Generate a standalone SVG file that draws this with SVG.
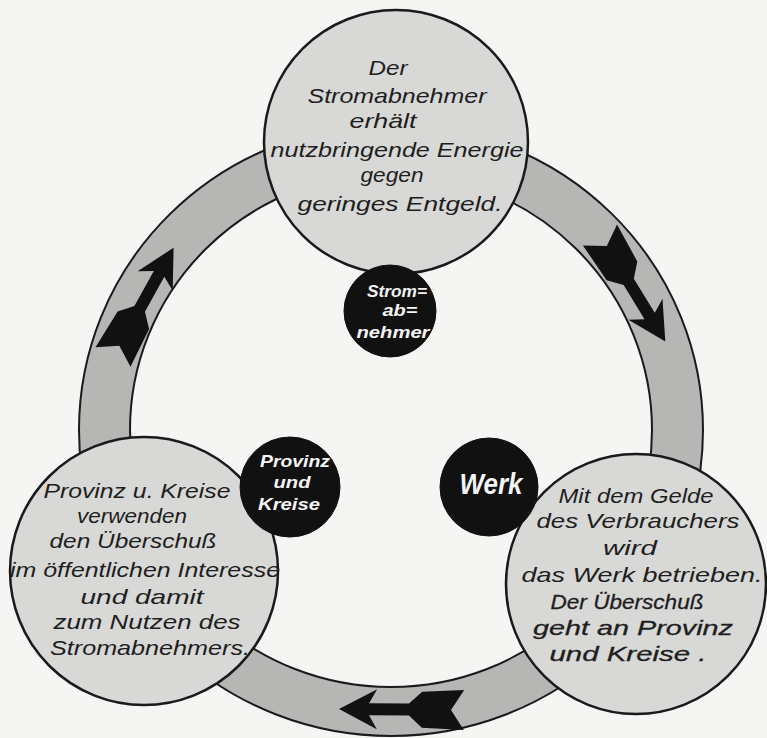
<svg xmlns="http://www.w3.org/2000/svg" width="767" height="738" viewBox="0 0 767 738">
  <style>
    .big { fill: #d8d8d6; stroke: #1a1a1a; stroke-width: 2.5; }
    .dark { fill: #111; stroke: #111; stroke-width: 1; }
    .t { font-family: "Liberation Sans", Arial, sans-serif; font-style: italic; font-size: 21px; fill: #1e1e1e; text-anchor: middle; }
    .tb { stroke: #1e1e1e; stroke-width: 0.3; }
    .w { font-family: "Liberation Sans", Arial, sans-serif; font-style: italic; font-weight: bold; font-size: 17px; fill: #f4f4f4; text-anchor: middle; }
    .arrow { fill: #111; }
  </style>
  <defs>
    <polygon id="arr" points="125,0 87,-20 95,-6 55,-6 42,-18 0,-20 13,0 0,20 42,18 55,6 95,6 87,20"/>
  </defs>
  <rect x="0" y="0" width="767" height="738" fill="#f5f5f3"/>

  <g id="connectors">
    <path d="M 79,430 A 312 306 0 1 0 703 430 A 312 306 0 1 0 79 430 Z M 130,430 A 261 257 0 1 0 652 430 A 261 257 0 1 0 130 430 Z" fill="#b6b6b4" fill-rule="evenodd" stroke="#1a1a1a" stroke-width="2"/>
    <use href="#arr" class="arrow" transform="translate(113,357) rotate(-61)"/>
    <use href="#arr" class="arrow" transform="translate(600,235) rotate(58.5)"/>
    <use href="#arr" class="arrow" transform="translate(464,710) rotate(180.5)"/>
  </g>

  <g id="node-top">
    <circle class="big" cx="396" cy="142" r="132"/>
    <text class="t" x="388" y="75" textLength="39" lengthAdjust="spacingAndGlyphs">Der</text>
    <text class="t" x="397" y="103" textLength="179" lengthAdjust="spacingAndGlyphs">Stromabnehmer</text>
    <text class="t" x="383" y="128" textLength="67" lengthAdjust="spacingAndGlyphs">erhält</text>
    <text class="t" x="397" y="157" textLength="253" lengthAdjust="spacingAndGlyphs">nutzbringende Energie</text>
    <text class="t" x="392" y="182" textLength="63" lengthAdjust="spacingAndGlyphs">gegen</text>
    <text class="t" x="400" y="211" textLength="205" lengthAdjust="spacingAndGlyphs">geringes Entgeld.</text>
  </g>

  <g id="node-left">
    <circle class="big" cx="144" cy="571" r="134"/>
    <text class="t" x="137" y="498" textLength="187" lengthAdjust="spacingAndGlyphs">Provinz u. Kreise</text>
    <text class="t" x="132" y="523" textLength="110" lengthAdjust="spacingAndGlyphs">verwenden</text>
    <text class="t" x="133" y="548" textLength="167" lengthAdjust="spacingAndGlyphs">den Überschuß</text>
    <text class="t" x="145" y="577" textLength="270" lengthAdjust="spacingAndGlyphs">im öffentlichen Interesse</text>
    <text class="t" x="142" y="604" textLength="123" lengthAdjust="spacingAndGlyphs">und damit</text>
    <text class="t" x="147" y="629" textLength="187" lengthAdjust="spacingAndGlyphs">zum Nutzen des</text>
    <text class="t" x="150" y="655" textLength="200" lengthAdjust="spacingAndGlyphs">Stromabnehmers.</text>
  </g>

  <g id="node-right">
    <circle class="big" cx="636" cy="584" r="130"/>
    <text class="t" x="636" y="503" textLength="155" lengthAdjust="spacingAndGlyphs">Mit dem Gelde</text>
    <text class="t" x="638" y="528" textLength="203" lengthAdjust="spacingAndGlyphs">des Verbrauchers</text>
    <text class="t" x="630" y="555" textLength="54" lengthAdjust="spacingAndGlyphs">wird</text>
    <text class="t" x="642" y="582" textLength="241" lengthAdjust="spacingAndGlyphs">das Werk betrieben.</text>
    <text class="t tb" x="627" y="609" textLength="153" lengthAdjust="spacingAndGlyphs">Der Überschuß</text>
    <text class="t tb" x="633" y="635" textLength="200" lengthAdjust="spacingAndGlyphs">geht an Provinz</text>
    <text class="t tb" x="628" y="661" textLength="157" lengthAdjust="spacingAndGlyphs">und Kreise .</text>
  </g>

  <g id="label-stromabnehmer">
    <circle class="dark" cx="390" cy="311" r="46"/>
    <text class="w" x="397" y="297" textLength="60" lengthAdjust="spacingAndGlyphs">Strom=</text>
    <text class="w" x="400" y="316" textLength="35" lengthAdjust="spacingAndGlyphs">ab=</text>
    <text class="w" x="393" y="338" textLength="73" lengthAdjust="spacingAndGlyphs">nehmer</text>
  </g>

  <g id="label-provinz">
    <circle class="dark" cx="290" cy="487" r="50"/>
    <text class="w" x="295" y="467" textLength="70" lengthAdjust="spacingAndGlyphs">Provinz</text>
    <text class="w" x="292" y="488" textLength="37" lengthAdjust="spacingAndGlyphs">und</text>
    <text class="w" x="289" y="510" textLength="62" lengthAdjust="spacingAndGlyphs">Kreise</text>
  </g>

  <g id="label-werk">
    <circle class="dark" cx="489" cy="487" r="49"/>
    <text class="w" x="491" y="494" style="font-size:29px" textLength="63" lengthAdjust="spacingAndGlyphs">Werk</text>
  </g>
</svg>
